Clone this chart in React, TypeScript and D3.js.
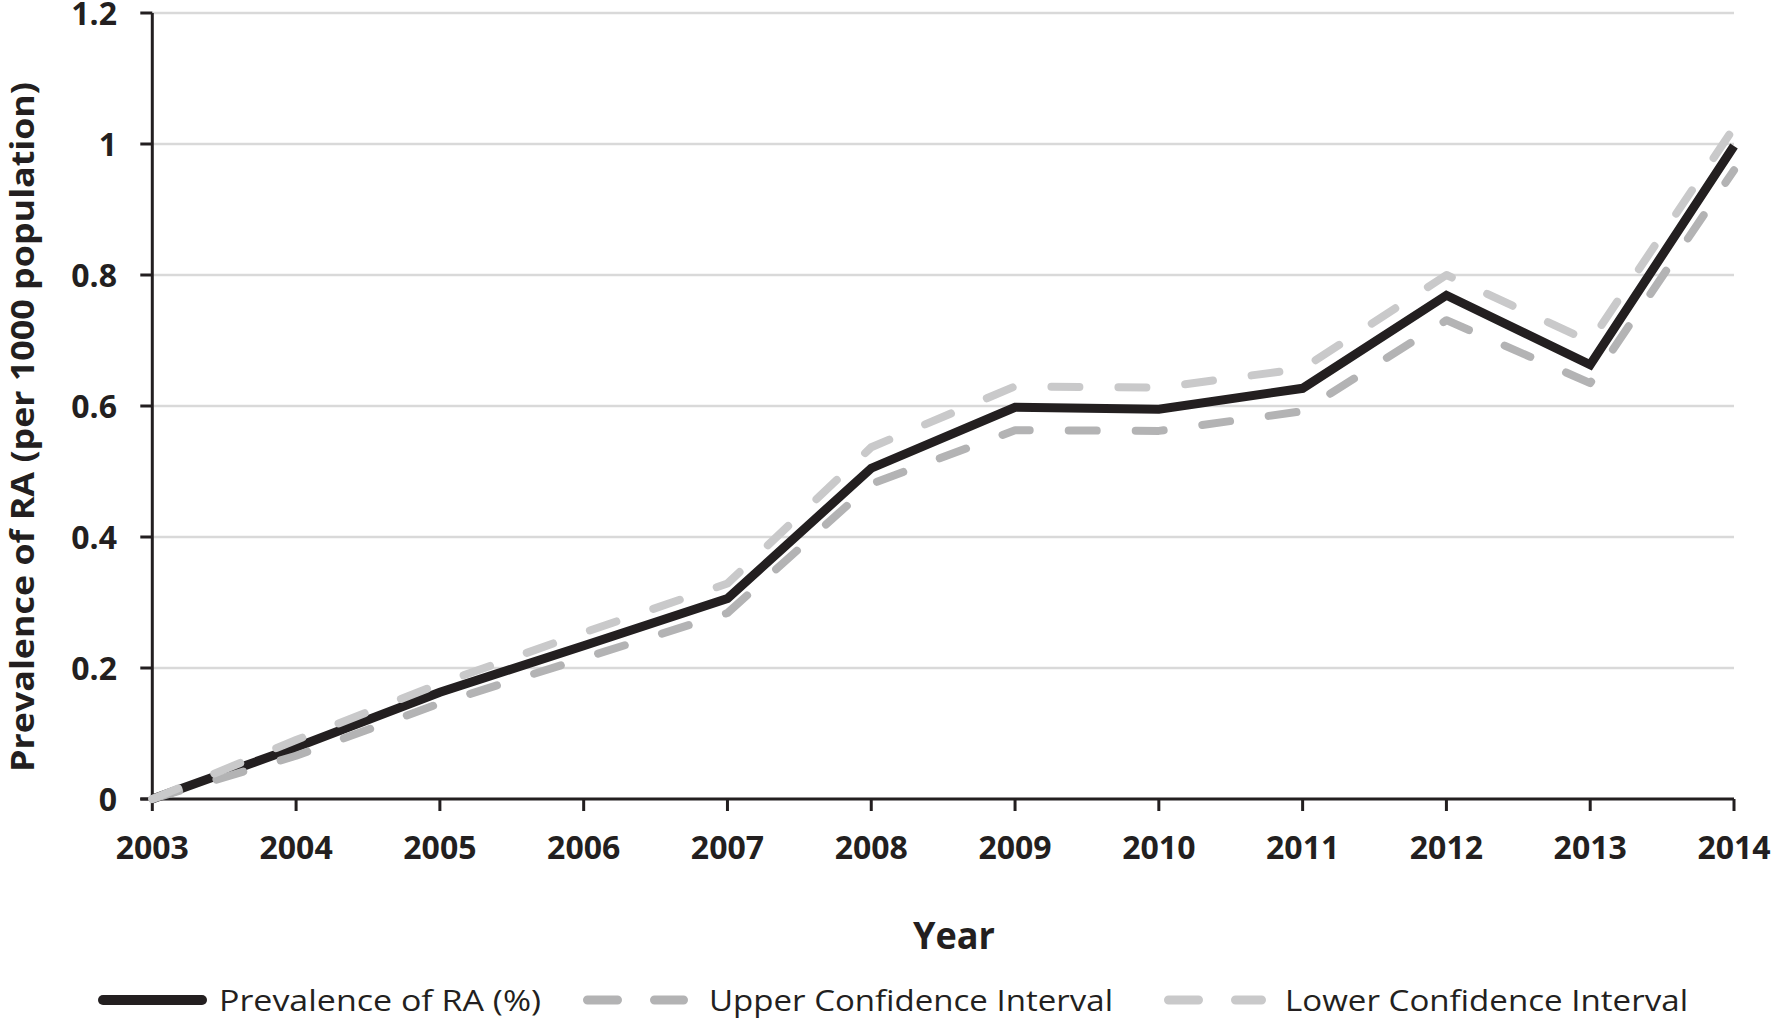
import React from "react";
import * as d3 from "d3";

const years = [2003, 2004, 2005, 2006, 2007, 2008, 2009, 2010, 2011, 2012, 2013, 2014];
const prevalence = [0, 0.079, 0.163, 0.234, 0.306, 0.505, 0.598, 0.595, 0.627, 0.769, 0.663, 0.997];
const upperCI = [0, 0.066, 0.146, 0.215, 0.284, 0.481, 0.563, 0.562, 0.592, 0.731, 0.635, 0.96];
const lowerCI = [0, 0.09, 0.176, 0.254, 0.329, 0.537, 0.63, 0.628, 0.657, 0.8, 0.698, 1.025];
const yTicks = [0, 0.2, 0.4, 0.6, 0.8, 1, 1.2];
const yTickLabels = ["0", "0.2", "0.4", "0.6", "0.8", "1", "1.2"];
const seriesNames = ["Prevalence of RA (%)", "Upper Confidence Interval", "Lower Confidence Interval"];

const W = 1772;
const H = 1019;
const BLACK = "#231f20";
const DARK_GREY = "#b3b3b4";
const LIGHT_GREY = "#c9c9ca";
const GRID = "#d9d9d9";
const FONT = "'Open Sans', 'Noto Sans', sans-serif";

export default function App() {
  const x = d3.scaleLinear().domain([2003, 2014]).range([152.3, 1734]);
  const y = d3.scaleLinear().domain([0, 1.2]).range([799, 13]);

  const line = d3
    .line<number>()
    .x((_, i) => x(years[i]))
    .y((d) => y(d));

  const dash = "28 39";

  return (
    <svg
      width={W}
      height={H}
      viewBox={`0 0 ${W} ${H}`}
      style={{ position: "absolute", left: 0, top: 0, background: "#fff" }}
    >
      <rect x={0} y={0} width={W} height={H} fill="#fff" />
      {yTicks.filter((t) => t > 0).map((t) => (
        <line key={"g" + t} x1={x(2003)} x2={x(2014)} y1={y(t)} y2={y(t)} stroke={GRID} strokeWidth={2.5} />
      ))}
      <line x1={x(2003)} x2={x(2003)} y1={y(1.2)} y2={y(0)} stroke={BLACK} strokeWidth={3} />
      {yTicks.map((t, i) => (
        <g key={"yt" + t}>
          <line x1={x(2003) - 12} x2={x(2003)} y1={y(t)} y2={y(t)} stroke={BLACK} strokeWidth={3} />
          <text
            x={117}
            y={y(t) + 11.5}
            textAnchor="end"
            fontFamily={FONT}
            fontWeight={700}
            fontSize={32}
            fill={BLACK}
          >
            {yTickLabels[i]}
          </text>
        </g>
      ))}
      <line x1={x(2003) - 12} x2={x(2014)} y1={y(0)} y2={y(0)} stroke={BLACK} strokeWidth={3} />
      {years.map((yr) => (
        <g key={"xt" + yr}>
          <line x1={x(yr)} x2={x(yr)} y1={y(0)} y2={y(0) + 12} stroke={BLACK} strokeWidth={3} />
          <text
            x={x(yr)}
            y={859}
            textAnchor="middle"
            fontFamily={FONT}
            fontWeight={700}
            fontSize={32}
            fill={BLACK}
          >
            {yr}
          </text>
        </g>
      ))}
      <text
        x={954}
        y={949}
        textAnchor="middle"
        fontFamily={FONT}
        fontWeight={700}
        fontSize={38}
        fill={BLACK}
        textLength={82}
        lengthAdjust="spacingAndGlyphs"
      >
        Year
      </text>
      <text
        transform="translate(34,427) rotate(-90)"
        textAnchor="middle"
        fontFamily={FONT}
        fontWeight={700}
        fontSize={32}
        fill={BLACK}
        textLength={690}
        lengthAdjust="spacingAndGlyphs"
      >
        Prevalence of RA (per 1000 population)
      </text>
      <path d={line(prevalence) || ""} fill="none" stroke={BLACK} strokeWidth={9} strokeLinejoin="miter" />
      <path
        d={line(upperCI) || ""}
        fill="none"
        stroke={DARK_GREY}
        strokeWidth={8}
        strokeDasharray={dash}
        strokeLinecap="round"
        strokeLinejoin="round"
      />
      <path
        d={line(lowerCI) || ""}
        fill="none"
        stroke={LIGHT_GREY}
        strokeWidth={8}
        strokeDasharray={dash}
        strokeLinecap="round"
        strokeLinejoin="round"
      />
      <line x1={103} x2={202} y1={1000} y2={1000} stroke={BLACK} strokeWidth={10} strokeLinecap="round" />
      <text x={219} y={1011} fontFamily={FONT} fontSize={29} fill={BLACK} textLength={322} lengthAdjust="spacingAndGlyphs">
        {seriesNames[0]}
      </text>
      <line
        x1={587.5}
        x2={683.5}
        y1={1000}
        y2={1000}
        stroke={DARK_GREY}
        strokeWidth={9}
        strokeLinecap="round"
        strokeDasharray="30 37"
      />
      <text x={709} y={1011} fontFamily={FONT} fontSize={29} fill={BLACK} textLength={404} lengthAdjust="spacingAndGlyphs">
        {seriesNames[1]}
      </text>
      <line
        x1={1168.5}
        x2={1261.5}
        y1={1000}
        y2={1000}
        stroke={LIGHT_GREY}
        strokeWidth={9}
        strokeLinecap="round"
        strokeDasharray="30 37"
      />
      <text x={1285} y={1011} fontFamily={FONT} fontSize={29} fill={BLACK} textLength={403} lengthAdjust="spacingAndGlyphs">
        {seriesNames[2]}
      </text>
    </svg>
  );
}
